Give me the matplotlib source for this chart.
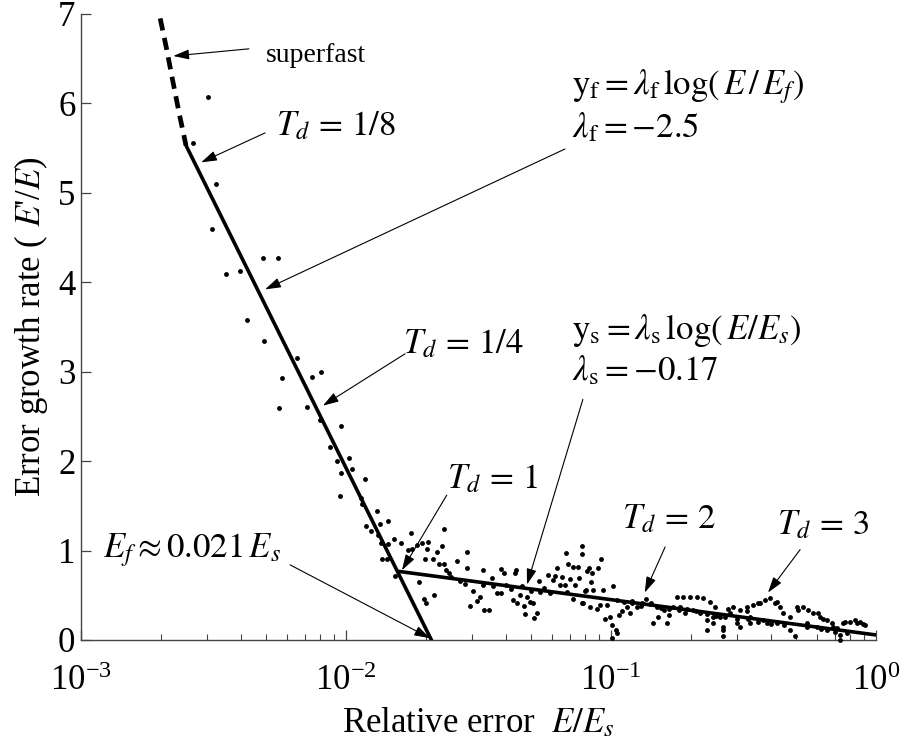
import numpy as np
import matplotlib.pyplot as plt

plt.rcParams['font.family'] = ['Liberation Serif', 'DejaVu Serif']
plt.rcParams['mathtext.fontset'] = 'stix'

###############################################################################
# data
###############################################################################
# scattered error-growth samples: relative error E/E_s and growth rate E'/E
err_fast = [0.00301, 0.00265, 0.00323, 0.00311, 0.00486, 0.00552, 0.00353, 0.00398,
            0.00423, 0.00492, 0.00653, 0.00803, 0.00572, 0.00744, 0.00558, 0.00711,
            0.00796, 0.00955, 0.00872, 0.0103, 0.00927, 0.0105, 0.00960, 0.0118,
            0.00947, 0.0114, 0.0115, 0.0131, 0.0119, 0.0124, 0.0134, 0.0144,
            0.0132, 0.0136, 0.0144, 0.0152, 0.0161, 0.0137, 0.0143, 0.0153]
rate_fast = [6.07, 5.56, 5.10, 4.59, 4.27, 4.27, 4.09, 4.13,
             3.58, 3.34, 3.15, 3.00, 2.93, 2.94, 2.59, 2.60,
             2.46, 2.39, 2.16, 2.04, 2.00, 1.91, 1.87, 1.80,
             1.61, 1.59, 1.52, 1.44, 1.28, 1.22, 1.30, 1.33,
             1.17, 1.08, 1.07, 1.13, 1.08, 0.91, 0.90, 0.71]

err_mid = [0.0176, 0.0171, 0.0178, 0.0186, 0.0194, 0.0203, 0.0202, 0.0220, 0.0230, 0.0234,
           0.0198, 0.0213, 0.0188, 0.0215, 0.0197, 0.0200, 0.0224, 0.0234, 0.0245, 0.0263,
           0.0238, 0.0285, 0.0285, 0.0280, 0.0302, 0.0293, 0.0311, 0.0321, 0.0331, 0.0347,
           0.0328, 0.0355, 0.0385, 0.0394, 0.0437, 0.0435, 0.0386, 0.0371, 0.0454, 0.0481,
           0.0428, 0.0441, 0.0494, 0.0470, 0.0509, 0.0474, 0.0525, 0.0514, 0.0540, 0.0533,
           0.0580, 0.0624, 0.0606, 0.0642, 0.0676, 0.0775, 0.0775, 0.0690, 0.0721, 0.0749,
           0.0810, 0.0845, 0.0798, 0.0834, 0.0883, 0.0681, 0.0721, 0.0786, 0.0828, 0.0914,
           0.0896, 0.0615, 0.0652, 0.0700, 0.0759, 0.0671, 0.0731, 0.0838, 0.0805, 0.0858,
           0.0935, 0.0775, 0.0909, 0.0963, 0.0949, 0.0991,
           0.025, 0.027, 0.033, 0.036, 0.040, 0.042, 0.046, 0.050, 0.056, 0.059]
rate_mid = [1.20, 1.01, 1.02, 1.06, 1.08, 1.09, 1.02, 0.98, 1.05, 1.24,
            0.90, 0.90, 0.65, 0.50, 0.46, 0.41, 0.85, 0.85, 0.75, 0.88,
            0.78, 0.98, 0.80, 0.63, 0.55, 0.38, 0.44, 0.48, 0.34, 0.33,
            0.78, 0.69, 0.79, 0.75, 0.78, 0.75, 0.52, 0.52, 0.50, 0.48,
            0.45, 0.41, 0.43, 0.38, 0.41, 0.29, 0.30, 0.25, 0.54, 0.66,
            0.73, 0.80, 0.67, 0.62, 0.97, 1.05, 0.96, 0.85, 0.82, 0.82,
            0.77, 0.75, 0.55, 0.37, 0.35, 0.54, 0.46, 0.41, 0.80, 0.91,
            0.80, 0.72, 0.70, 0.68, 0.69, 0.62, 0.62, 0.65, 0.56, 0.56,
            0.56, 0.41, 0.39, 0.39, 0.24, 0.26,
            0.70, 0.66, 0.62, 0.60, 0.61, 0.57, 0.60, 0.55, 0.58, 0.52]

err_slow = [0.102, 0.101, 0.104, 0.105, 0.101, 0.107, 0.110, 0.115, 0.120, 0.118,
            0.125, 0.131, 0.136, 0.142, 0.149, 0.144, 0.151, 0.158, 0.165, 0.162,
            0.172, 0.177, 0.187, 0.199, 0.211, 0.223, 0.236, 0.247, 0.182, 0.193,
            0.204, 0.217, 0.230, 0.230, 0.243, 0.258, 0.265, 0.281, 0.289, 0.307,
            0.325, 0.344, 0.365, 0.381, 0.398, 0.416, 0.434, 0.447, 0.474, 0.474,
            0.495, 0.502, 0.532, 0.555, 0.580, 0.614, 0.652, 0.681, 0.711, 0.732,
            0.753, 0.798, 0.846, 0.896, 0.335, 0.376, 0.422, 0.298, 0.265,
            0.243, 0.265, 0.277, 0.325, 0.360, 0.422, 0.509, 0.606, 0.633, 0.690,
            0.732, 0.764, 0.833, 0.870, 0.909, 0.387, 0.422, 0.335, 0.307, 0.548,
            0.597, 0.652,
            0.105, 0.112, 0.12, 0.13, 0.14, 0.155, 0.165, 0.18, 0.19, 0.21,
            0.23, 0.25, 0.27, 0.30, 0.33, 0.36, 0.40, 0.45, 0.55, 0.62, 0.70, 0.78]
rate_slow = [0.60, 0.17, 0.11, 0.075, 0.02, 0.28, 0.32, 0.37, 0.41, 0.30,
             0.37, 0.41, 0.46, 0.41, 0.37, 0.19, 0.26, 0.34, 0.28, 0.19,
             0.37, 0.48, 0.48, 0.48, 0.48, 0.47, 0.43, 0.37, 0.37, 0.35,
             0.34, 0.30, 0.22, 0.11, 0.19, 0.26, 0.15, 0.30, 0.37, 0.34,
             0.37, 0.39, 0.41, 0.45, 0.47, 0.41, 0.37, 0.30, 0.26, 0.11,
             0.04, 0.37, 0.37, 0.34, 0.30, 0.26, 0.22, 0.19, 0.13, 0.06,
             0.19, 0.20, 0.19, 0.18, 0.26, 0.22, 0.19, 0.19, 0.04,
             0.26, 0.11, 0.35, 0.32, 0.41, 0.42, 0.34, 0.30, 0.24, 0.15,
             0.00, 0.20, 0.22, 0.20, 0.17, 0.19, 0.20, 0.19, 0.15, 0.19,
             0.15, 0.11,
             0.45, 0.42, 0.44, 0.38, 0.40, 0.36, 0.35, 0.33, 0.30, 0.32,
             0.29, 0.27, 0.26, 0.24, 0.23, 0.20, 0.18, 0.17, 0.14, 0.12, 0.09, 0.08]

# fitted lines
superfast_err = [0.00199, 0.00210, 0.00222, 0.00235, 0.00249]
superfast_rate = [6.95, 6.62, 6.25, 5.88, 5.53]
fastfit_err = [0.00249, 0.021]
fastfit_rate = [5.53, 0.0]
slowfit_err = [0.016, 1.0]
slowfit_rate = [0.765, 0.056]

yticks = [0, 1, 2, 3, 4, 5, 6, 7]

###############################################################################
# figure
###############################################################################
fig = plt.figure(figsize=(9.01, 7.42), dpi=100)
ax = fig.add_axes([0.0899, 0.1375, 0.8824, 0.8437])

ax.plot(err_fast + err_mid + err_slow, rate_fast + rate_mid + rate_slow, 'o',
        color='k', ms=3.5, mew=0, clip_on=False, zorder=3)
ax.plot(superfast_err, superfast_rate, color='k', lw=3.4, ls=(0, (2.6, 1.6)),
        solid_capstyle='butt', zorder=4)
ax.plot(fastfit_err, fastfit_rate, color='k', lw=2.6, zorder=4)
ax.plot(slowfit_err, slowfit_rate, color='k', lw=2.6, zorder=4)

ax.set_xscale('log')
ax.set_xlim(1e-3, 1)
ax.set_ylim(0, 7)
ax.set_yticks(yticks)
ax.set_xticks([1e-3, 1e-2, 1e-1, 1])

for s in ['top', 'right']:
    ax.spines[s].set_visible(False)
for s in ['left', 'bottom']:
    ax.spines[s].set_color('#444444')
    ax.spines[s].set_linewidth(1.0)

ax.tick_params(which='major', direction='in', length=7, width=0.9, color='#444444',
               labelsize=25)
ax.tick_params(which='minor', direction='in', length=4, width=0.8, color='#444444')
ax.tick_params(axis='x', which='major', pad=18)
ax.tick_params(axis='y', which='major', pad=4)
ax.tick_params(axis='y', which='minor', left=False)

ax.set_xlabel(r'Relative error  $E/E_s$', fontsize=25, labelpad=6)
ax.set_ylabel(r"Error growth rate ( $E$'/$E$)", fontsize=25, labelpad=6)

###############################################################################
# annotations
###############################################################################
arrow = dict(arrowstyle='-|>,head_length=0.6,head_width=0.19', color='k', lw=0.8,
             mutation_scale=16, shrinkA=0, shrinkB=0)

def note(tip, tail):
    ax.annotate('', xy=tip, xytext=tail, xycoords='data', arrowprops=arrow)

fs = 25
ax.text(0.00499, 6.46, 'superfast', fontsize=20)
note((0.00223, 6.53), (0.00430, 6.61))

ax.text(0.00543, 5.64, r'$T_d\,=\,1/8$', fontsize=fs)
note((0.00284, 5.34), (0.00495, 5.67))

ax.text(0.0713, 6.1, r'$\mathrm{y_f} = \lambda_\mathrm{f}\,\log(\,E\,/\,E_f)$', fontsize=fs)
ax.text(0.0713, 5.62, r'$\lambda_\mathrm{f} = -2.5$', fontsize=fs)
note((0.00495, 3.92), (0.067, 5.49))

ax.text(0.0164, 3.21, r'$T_d\,=\,1/4$', fontsize=fs)
note((0.00818, 2.62), (0.0167, 3.20))

ax.text(0.0713, 3.36, r'$\mathrm{y_s} = \lambda_\mathrm{s}\,\log(\,E/E_s)$', fontsize=fs)
ax.text(0.0713, 2.91, r'$\lambda_\mathrm{s} = -0.17$', fontsize=fs)
note((0.0482, 0.62), (0.0783, 2.69))

ax.text(0.0240, 1.70, r'$T_d\,=\,1$', fontsize=fs)
note((0.01626, 0.78), (0.0240, 1.62))

ax.text(0.00121, 0.92, r'$E_f \approx 0.021\,E_s$', fontsize=fs)
note((0.02075, 0.02), (0.00615, 0.84))

ax.text(0.110, 1.25, r'$T_d\,=\,2$', fontsize=fs)
note((0.134, 0.53), (0.160, 1.04))

ax.text(0.423, 1.18, r'$T_d\,=\,3$', fontsize=fs)
note((0.391, 0.53), (0.517, 1.01))

fig.savefig('out.png', dpi=100)
